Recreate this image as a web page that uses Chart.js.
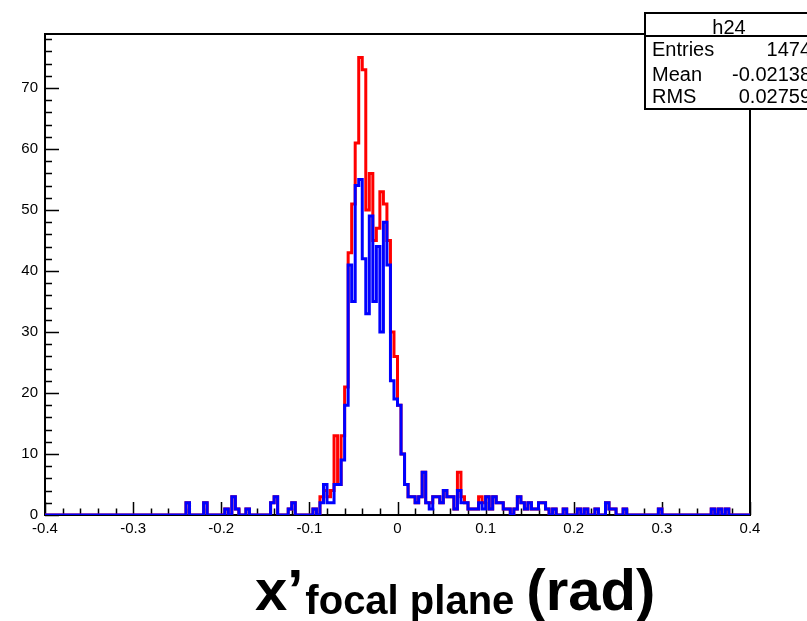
<!DOCTYPE html>
<html>
<head>
<meta charset="utf-8">
<script src="https://cdn.jsdelivr.net/npm/chart.js@4.4.1/dist/chart.umd.min.js"></script>
<style>
  html, body { margin: 0; padding: 0; background: #fff; }
  #wrap { width: 807px; height: 621px; position: relative; }
</style>
</head>
<body>
<div id="wrap"><canvas id="chart" width="807" height="621"></canvas></div>
<script>
// histogram binning: 200 bins from -0.4 to 0.4
const xMin = -0.4, xMax = 0.4, binWidth = 0.004;
const yMax = 78.85;
const xTicks = [-0.4, -0.3, -0.2, -0.1, 0, 0.1, 0.2, 0.3, 0.4];
const xTickLabels = ["-0.4", "-0.3", "-0.2", "-0.1", "0", "0.1", "0.2", "0.3", "0.4"];
const yTicks = [0, 10, 20, 30, 40, 50, 60, 70];

// counts per bin
const redCounts = [
  0, 0, 0, 0, 0, 0, 0, 0, 0, 0, 0, 0, 0, 0, 0, 0, 0, 0, 0, 0,
  0, 0, 0, 0, 0, 0, 0, 0, 0, 0, 0, 0, 0, 0, 0, 0, 0, 0, 0, 0,
  0, 2, 0, 0, 0, 0, 2, 0, 0, 0, 0, 0, 1, 0, 3, 1, 0, 0, 1, 0,
  0, 0, 0, 0, 0, 2, 3, 0, 0, 0, 1, 2, 0, 0, 0, 0, 0, 1, 0, 3,
  4, 3, 4, 13, 5, 13, 21, 43, 51, 61, 75, 73, 50, 56, 45, 47, 53, 51, 45, 30,
  26, 18, 10, 5, 3, 3, 2, 3, 7, 2, 2, 3, 3, 2, 4, 3, 3, 1, 7, 3,
  2, 1, 1, 1, 3, 2, 3, 1, 3, 2, 2, 1, 1, 0, 1, 3, 2, 1, 2, 1,
  1, 2, 2, 1, 0, 1, 0, 0, 1, 0, 0, 0, 1, 0, 1, 0, 0, 1, 0, 0,
  2, 1, 1, 0, 0, 1, 0, 0, 0, 0, 0, 0, 0, 0, 0, 1, 0, 0, 0, 0,
  0, 0, 0, 0, 0, 0, 0, 0, 0, 0, 1, 0, 1, 0, 1, 0, 0, 0, 0, 0
];
const blueCounts = [
  0, 0, 0, 0, 0, 0, 0, 0, 0, 0, 0, 0, 0, 0, 0, 0, 0, 0, 0, 0,
  0, 0, 0, 0, 0, 0, 0, 0, 0, 0, 0, 0, 0, 0, 0, 0, 0, 0, 0, 0,
  0, 2, 0, 0, 0, 0, 2, 0, 0, 0, 0, 0, 1, 0, 3, 1, 0, 0, 1, 0,
  0, 0, 0, 0, 0, 2, 3, 0, 0, 0, 1, 2, 0, 0, 0, 0, 0, 1, 0, 2,
  5, 2, 2, 5, 5, 9, 18, 41, 35, 54, 55, 42, 33, 49, 35, 44, 30, 48, 41, 22,
  19, 18, 10, 5, 3, 3, 2, 3, 7, 2, 1, 3, 3, 2, 4, 3, 3, 1, 4, 2,
  2, 1, 1, 1, 2, 1, 3, 1, 3, 2, 2, 1, 1, 0, 1, 3, 2, 1, 2, 1,
  1, 2, 2, 1, 0, 1, 0, 0, 1, 0, 0, 0, 1, 0, 1, 0, 0, 1, 0, 0,
  2, 1, 1, 0, 0, 1, 0, 0, 0, 0, 0, 0, 0, 0, 0, 1, 0, 0, 0, 0,
  0, 0, 0, 0, 0, 0, 0, 0, 0, 0, 1, 0, 1, 0, 1, 0, 0, 0, 0, 0
];

const statsTitle = "h24";
const statsLabels = ["Entries", "Mean", "RMS"];
const statsValues = ["1474", "-0.02138", "0.02759"];

const fontFamily = '"Liberation Sans", Arial, Helvetica, sans-serif';

// one point per bin low edge + closing point at the upper edge
function steps(counts) {
  const pts = counts.map((c, i) => ({ x: xMin + i * binWidth, y: c }));
  pts.push({ x: xMax, y: counts[counts.length - 1] });
  return pts;
}

// ROOT style frame with inward ticks
const framePlugin = {
  id: 'frame',
  beforeDatasetsDraw(chart) {
    const { ctx, chartArea: a, scales: { x, y } } = chart;
    ctx.save();
    ctx.strokeStyle = '#000';
    ctx.lineWidth = 2;
    ctx.strokeRect(a.left, a.top, a.right - a.left, a.bottom - a.top);
    ctx.lineWidth = 1.5;
    ctx.beginPath();
    for (let v = 0; v <= yMax; v += 2) {
      const py = Math.round(y.getPixelForValue(v)) + 0.5;
      const len = v % 10 === 0 ? 14 : 7;
      ctx.moveTo(a.left, py);
      ctx.lineTo(a.left + len, py);
    }
    for (let k = 0; k <= 40; k++) {
      const px = Math.round(x.getPixelForValue(xMin + k * 0.02)) + 0.5;
      const len = k % 5 === 0 ? 13 : 6.5;
      ctx.moveTo(px, a.bottom);
      ctx.lineTo(px, a.bottom - len);
    }
    ctx.stroke();
    ctx.restore();
  },
  afterDraw(chart) {
    const ctx = chart.ctx;
    ctx.save();
    // stats box (runs off the right edge like the original)
    const bx = 645, by = 13, bw = 168, bh = 96;
    ctx.fillStyle = '#fff';
    ctx.fillRect(bx, by, bw, bh);
    ctx.strokeStyle = '#000';
    ctx.lineWidth = 2;
    ctx.strokeRect(bx, by, bw, bh);
    ctx.beginPath();
    ctx.moveTo(bx, 36);
    ctx.lineTo(bx + bw, 36);
    ctx.stroke();
    ctx.fillStyle = '#000';
    ctx.font = '20px ' + fontFamily;
    ctx.textBaseline = 'alphabetic';
    ctx.textAlign = 'center';
    ctx.fillText(statsTitle, bx + bw / 2, 34);
    const rowY = [56, 81, 103];
    statsLabels.forEach((lab, i) => {
      ctx.textAlign = 'left';
      ctx.fillText(lab, 652, rowY[i]);
      ctx.textAlign = 'right';
      ctx.fillText(statsValues[i], 811, rowY[i]);
    });

    // x axis title with subscript
    ctx.textAlign = 'left';
    let px = 255;
    ctx.font = 'bold 58px ' + fontFamily;
    ctx.fillText('x\u2019', px, 610);
    px += ctx.measureText('x\u2019').width + 2;
    ctx.font = 'bold 40px ' + fontFamily;
    ctx.fillText('focal plane', px, 614);
    px += ctx.measureText('focal plane').width + 12;
    ctx.font = 'bold 58px ' + fontFamily;
    ctx.fillText('(rad)', px, 610);
    ctx.restore();
  }
};

new Chart(document.getElementById('chart'), {
  type: 'line',
  data: {
    datasets: [
      { label: 'red', data: steps(redCounts), borderColor: '#ff0000', borderWidth: 3,
        stepped: 'after', pointRadius: 0, fill: false, order: 2 },
      { label: 'blue', data: steps(blueCounts), borderColor: '#0000ff', borderWidth: 3,
        stepped: 'after', pointRadius: 0, fill: false, order: 1 }
    ]
  },
  options: {
    responsive: false,
    animation: false,
    devicePixelRatio: 1,
    layout: { padding: { left: 0, right: 57, top: 34, bottom: 0 } },
    plugins: { legend: { display: false }, tooltip: { enabled: false } },
    scales: {
      x: {
        type: 'linear', min: xMin, max: xMax,
        grid: { display: false, drawTicks: false },
        border: { display: false },
        afterBuildTicks: s => { s.ticks = xTicks.map(v => ({ value: v })); },
        afterFit: s => { s.height = 106; },
        ticks: { autoSkip: false, maxRotation: 0, padding: 5, color: '#000',
          font: { family: fontFamily, size: 15 },
          callback: (v, i) => xTickLabels[i] }
      },
      y: {
        min: 0, max: yMax,
        grid: { display: false, drawTicks: false },
        border: { display: false },
        afterBuildTicks: s => { s.ticks = yTicks.map(v => ({ value: v })); },
        afterFit: s => { s.width = 45; },
        ticks: { padding: 7, color: '#000', font: { family: fontFamily, size: 15 } }
      }
    }
  },
  plugins: [framePlugin]
});
</script>
</body>
</html>
